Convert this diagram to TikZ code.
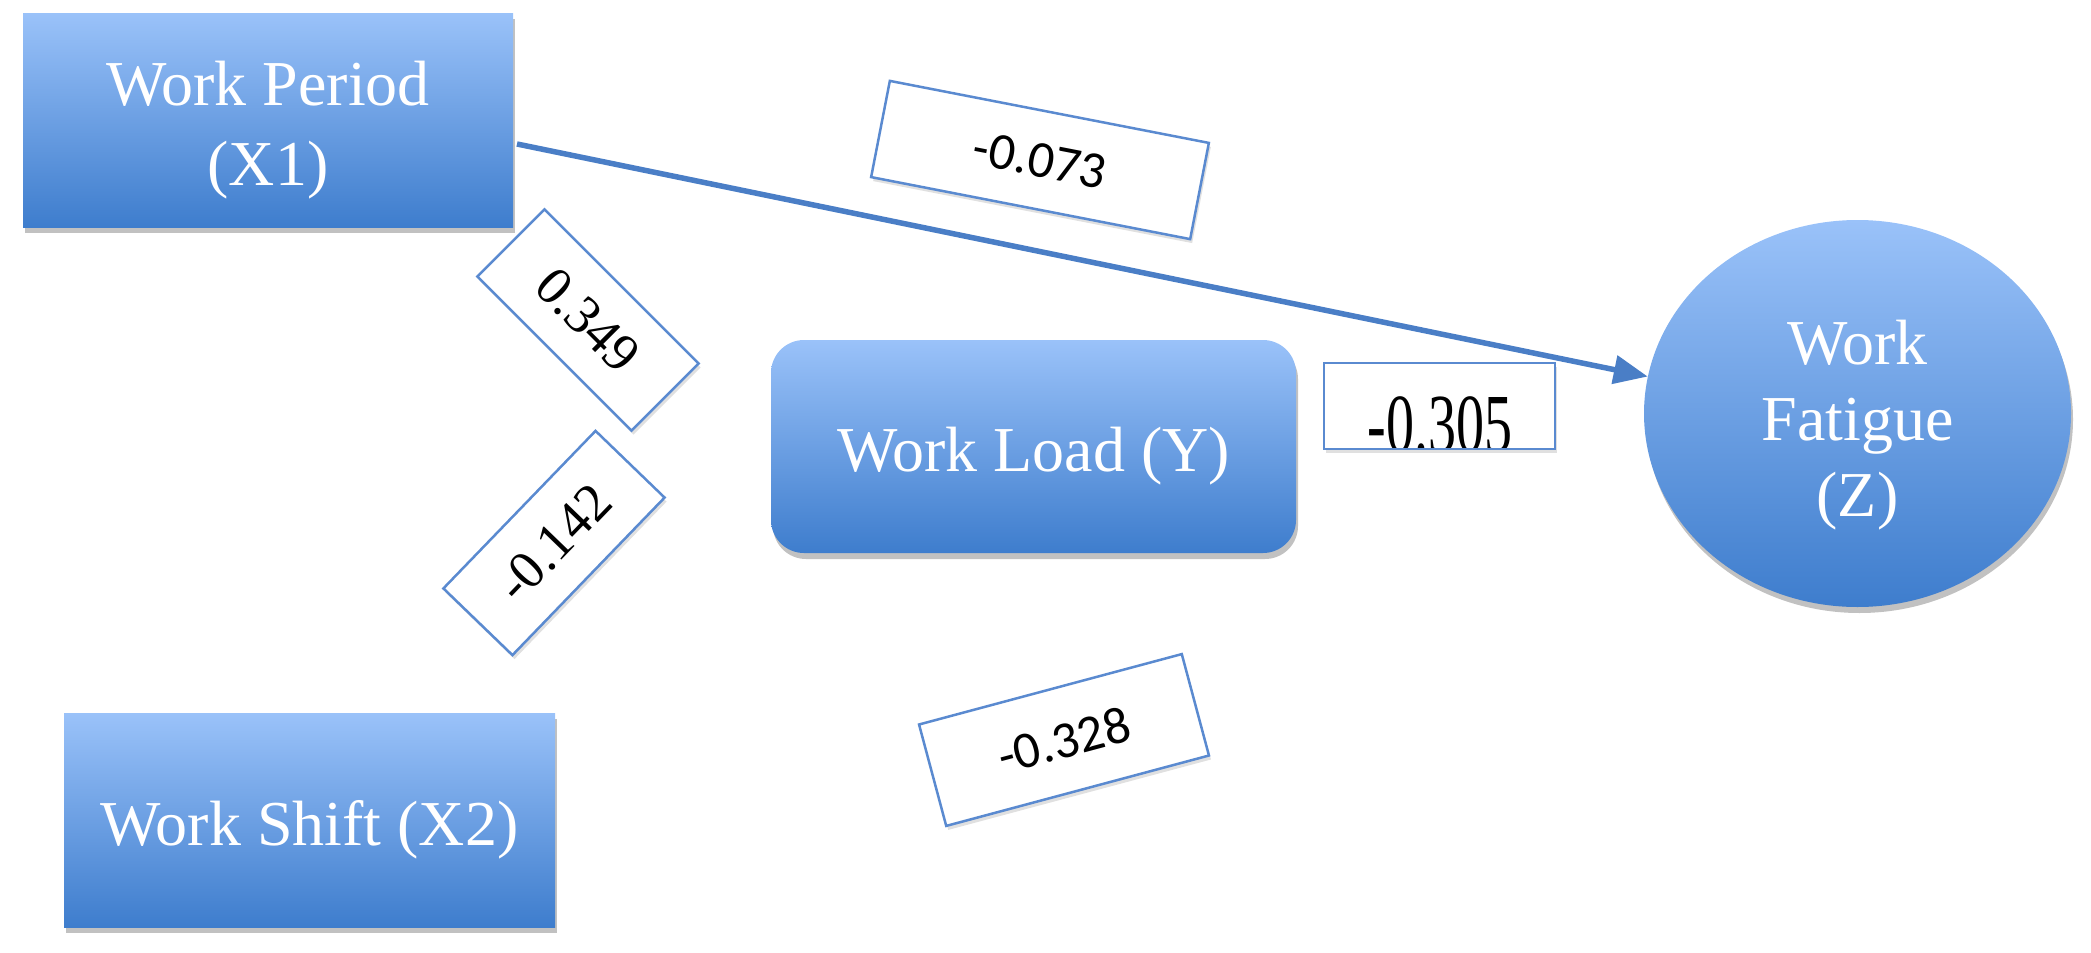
\documentclass[tikz,border=0pt]{standalone}
\usepackage{fontspec}
\setmainfont{Liberation Serif}
\newfontfamily\calib{Carlito}
\usetikzlibrary{shapes.geometric,arrows.meta,shadows}
\definecolor{topblue}{HTML}{9AC2F9}
\definecolor{botblue}{HTML}{3E7DCD}
\definecolor{lineblue}{HTML}{4A7EC6}
\definecolor{edgeblue}{HTML}{5A8AD0}
\begin{document}
\begin{tikzpicture}[x=1pt,y=-1pt,
  varbox/.style={rectangle, top color=topblue, bottom color=botblue, draw=none,
    inner sep=0pt,
    drop shadow={shadow xshift=2pt, shadow yshift=-6pt, opacity=0.35, fill=black!70}},
  vartext/.style={text=white, align=center, inner sep=0pt, font=\fontsize{64}{80}\selectfont},
  lblbox/.style={rectangle, draw=edgeblue, line width=2.5pt, fill=white, inner sep=0pt,
    drop shadow={shadow xshift=2pt, shadow yshift=-4pt, opacity=0.2, fill=black!60}},
  sernum/.style={font=\fontsize{54}{60}\selectfont},
  sansnum/.style={font=\calib\fontsize{52}{60}\selectfont},
  conn/.style={draw=lineblue, line width=5.5pt, -{Triangle[length=34pt,width=28pt]}}
]
\useasboundingbox (0,0) rectangle (2091,953);

\node[varbox, minimum width=490pt, minimum height=214pt] (wp) at (268,120) {};
\node[vartext] (wpt) at ([yshift=-10pt]wp.center) {Work Period\\(X1)};
\node[varbox, minimum width=491pt, minimum height=214pt] (ws) at (309.5,820) {};
\node[vartext] (wst) at ([yshift=-10pt]ws.center) {Work Shift (X2)};
\node[varbox, rounded corners=33pt, minimum width=525pt, minimum height=213pt] (wl) at (1033.5,446.5) {};
\node[vartext] (wlt) at ([yshift=-10pt]wl.center) {Work Load (Y)};
\node[varbox, ellipse, minimum width=427pt, minimum height=387pt] (wf) at (1857.5,413.5) {};
\node[vartext, font=\fontsize{64}{76}\selectfont] (wft) at ([yshift=-12pt]wf.center) {Work\\Fatigue\\(Z)};

\coordinate (wpout) at (517,144);
\draw[conn] (wpout) -- (wf.170);

\node[lblbox, sansnum, rotate=-11, minimum width=325pt, minimum height=98pt] (l073) at (1040,160) {-0.073};
\node[lblbox, sernum, rotate=-45, minimum width=218pt, minimum height=95pt] (l349) at (588,320) {0.349};
\node[lblbox, sernum, rotate=46, minimum width=219pt, minimum height=96pt] (l142) at (554,543) {-0.142};
\node[lblbox, minimum width=231pt, minimum height=86pt] (l305) at (1439.5,406) {};
\begin{scope}
  \clip (1325.5,364.5) rectangle (1553.5,447.5);
  \node[anchor=base, font=\fontsize{56}{60}\selectfont, inner sep=0pt] (t305) at (1440,452) {\scalebox{1}[1.5]{-0.305}};
\end{scope}
\node[lblbox, sansnum, rotate=15, minimum width=272pt, minimum height=105pt] (l328) at (1064,740) {-0.328};
\end{tikzpicture}
\end{document}
